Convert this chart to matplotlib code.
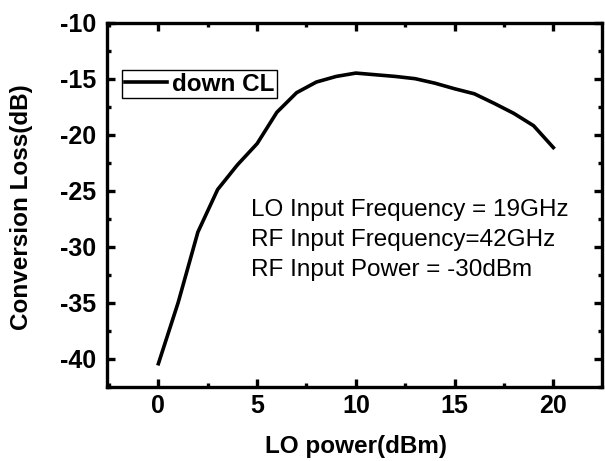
import matplotlib
matplotlib.use("Agg")
import matplotlib.pyplot as plt
from matplotlib.ticker import MultipleLocator

plt.rcParams['font.family'] = ['Liberation Sans', 'DejaVu Sans']
plt.rcParams['axes.unicode_minus'] = False

lo_power = [0, 1, 2, 3, 4, 5, 6, 7, 8, 9, 10, 11, 12, 13, 14, 15, 16, 17, 18, 19, 20]
conv_loss = [-40.45, -35.0, -28.7, -24.9, -22.7, -20.8, -18.0, -16.25, -15.3, -14.8, -14.5,
             -14.65, -14.8, -15.0, -15.4, -15.9, -16.35, -17.2, -18.1, -19.2, -21.15]
series_label = "down CL"
x_label = "LO power(dBm)"
y_label = "Conversion Loss(dB)"
x_ticks = [0, 5, 10, 15, 20]
y_ticks = [-40, -35, -30, -25, -20, -15, -10]
notes = ["LO Input Frequency = 19GHz", "RF Input Frequency=42GHz", "RF Input Power = -30dBm"]

fig = plt.figure(figsize=(6.05, 4.61), dpi=100)
ax = fig.add_axes([0.1769, 0.1612, 0.8177, 0.7896])

ax.plot(lo_power, conv_loss, color='black', lw=2.6, label=series_label, solid_joinstyle='miter')

ax.set_xlim(-2.6, 22.45)
ax.set_ylim(-42.5, -10)
ax.set_xticks(x_ticks)
ax.set_yticks(y_ticks)
ax.xaxis.set_minor_locator(MultipleLocator(2.5))
ax.yaxis.set_minor_locator(MultipleLocator(2.5))

for s in ax.spines.values():
    s.set_linewidth(2.4)

ax.tick_params(which='both', direction='in', top=True, right=True, width=2.4, colors='black')
ax.tick_params(which='major', length=6)
ax.tick_params(which='minor', length=3)
ax.tick_params(axis='x', which='major', pad=5)
ax.tick_params(axis='y', which='major', pad=8)
for lab in ax.get_xticklabels() + ax.get_yticklabels():
    lab.set_fontsize(18)
    lab.set_fontweight('bold')

ax.set_xlabel(x_label, fontsize=17.5, fontweight='bold', va='center')
ax.set_ylabel(y_label, fontsize=17.5, fontweight='bold', va='center')
ax.xaxis.set_label_coords(0.503, -0.165)
ax.yaxis.set_label_coords(-0.172, 0.4945)

baselines = [0.469, 0.386, 0.305]
for t, yb in zip(notes, baselines):
    ax.text(0.291, yb, t, transform=ax.transAxes, fontsize=17.5, va='baseline', ha='left')

leg = ax.legend(loc='upper left', bbox_to_anchor=(0.0297, 0.871), borderaxespad=0,
                fancybox=False, framealpha=1, edgecolor='black',
                prop={'size': 17.5, 'weight': 'bold'},
                handlelength=1.75, handletextpad=0.2, borderpad=0.12)
leg.get_frame().set_linewidth(1.0)

fig.savefig("out.png", dpi=100)
